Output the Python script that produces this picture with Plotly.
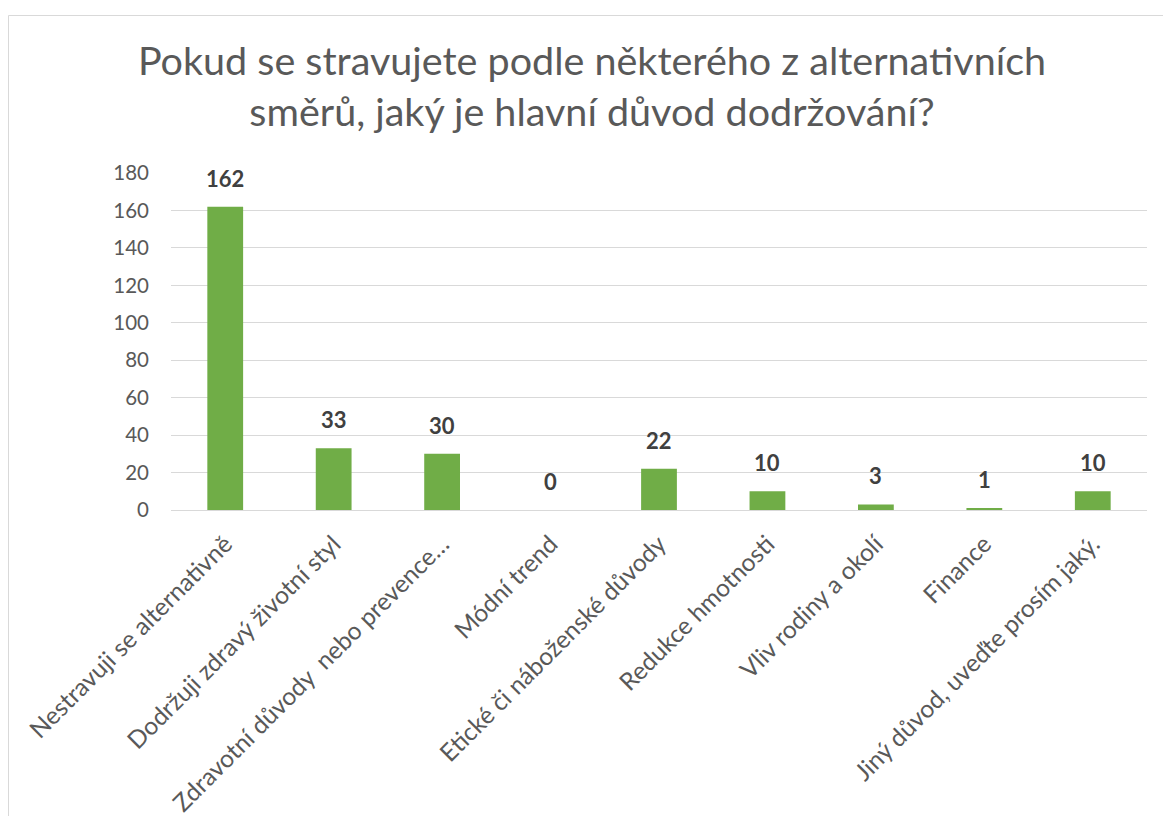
import plotly.graph_objects as go

categories = [
    "Nestravuji se alternativně",
    "Dodržuji zdravý životní styl",
    "Zdravotní důvody  nebo prevence…",
    "Módní trend",
    "Etické či náboženské důvody",
    "Redukce hmotnosti",
    "Vliv rodiny a okolí",
    "Finance",
    "Jiný důvod, uveďte prosím jaký.",
]
values = [162, 33, 30, 0, 22, 10, 3, 1, 10]
y_ticks = [0, 20, 40, 60, 80, 100, 120, 140, 160, 180]

W, H = 1163, 816
L, R, T, B = 171, 16, 173, 306

fig = go.Figure(go.Bar(
    x=categories, y=values,
    marker=dict(color="#70AD47", line=dict(width=0)),
    width=0.33,
    hoverinfo="x+y",
))

annotations = [
    dict(x=c, y=v, xref="x", yref="y", text="<b>%d</b>" % v,
         showarrow=False, yanchor="bottom", xanchor="center", yshift=13,
         font=dict(family="Lato", size=22, color="#404040"))
    for c, v in zip(categories, values)
]

pw = W - L - R
ph = H - T - B

fig.update_layout(
    width=W, height=H,
    margin=dict(l=L, r=R, t=T, b=B, autoexpand=False),
    paper_bgcolor="white", plot_bgcolor="white",
    font=dict(family="Lato", color="#595959"),
    title=dict(
        text="Pokud se stravujete podle některého z alternativních<br>směrů, jaký je hlavní důvod dodržování?",
        x=592 / W, xanchor="center", xref="container",
        y=1 - 75 / H, yanchor="top", yref="container",
        font=dict(family="Lato", size=39.5, color="#595959"),
    ),
    xaxis=dict(
        tickangle=-45, tickfont=dict(family="Lato", size=24.5, color="#595959"),
        showgrid=False, showline=False, ticks="", ticklabelstandoff=14,
    ),
    yaxis=dict(
        range=[0, 180], tickvals=y_ticks,
        tickfont=dict(family="Lato", size=20.5, color="#595959"),
        showgrid=True, gridcolor="#D9D9D9", gridwidth=1,
        zeroline=True, zerolinecolor="#D9D9D9", zerolinewidth=1,
        showline=False, ticks="", ticklabelstandoff=21,
    ),
    showlegend=False,
    bargap=0.67,
    annotations=annotations,
    shapes=[dict(
        type="rect", xref="paper", yref="paper",
        x0=(8.5 - L) / pw, x1=(W + 10 - L) / pw,
        y0=(H - B - (H + 10)) / ph, y1=(H - B - 15.5) / ph,
        line=dict(color="#D9D9D9", width=1), fillcolor="rgba(0,0,0,0)",
        layer="below",
    )],
)

fig.write_html("out.html")
